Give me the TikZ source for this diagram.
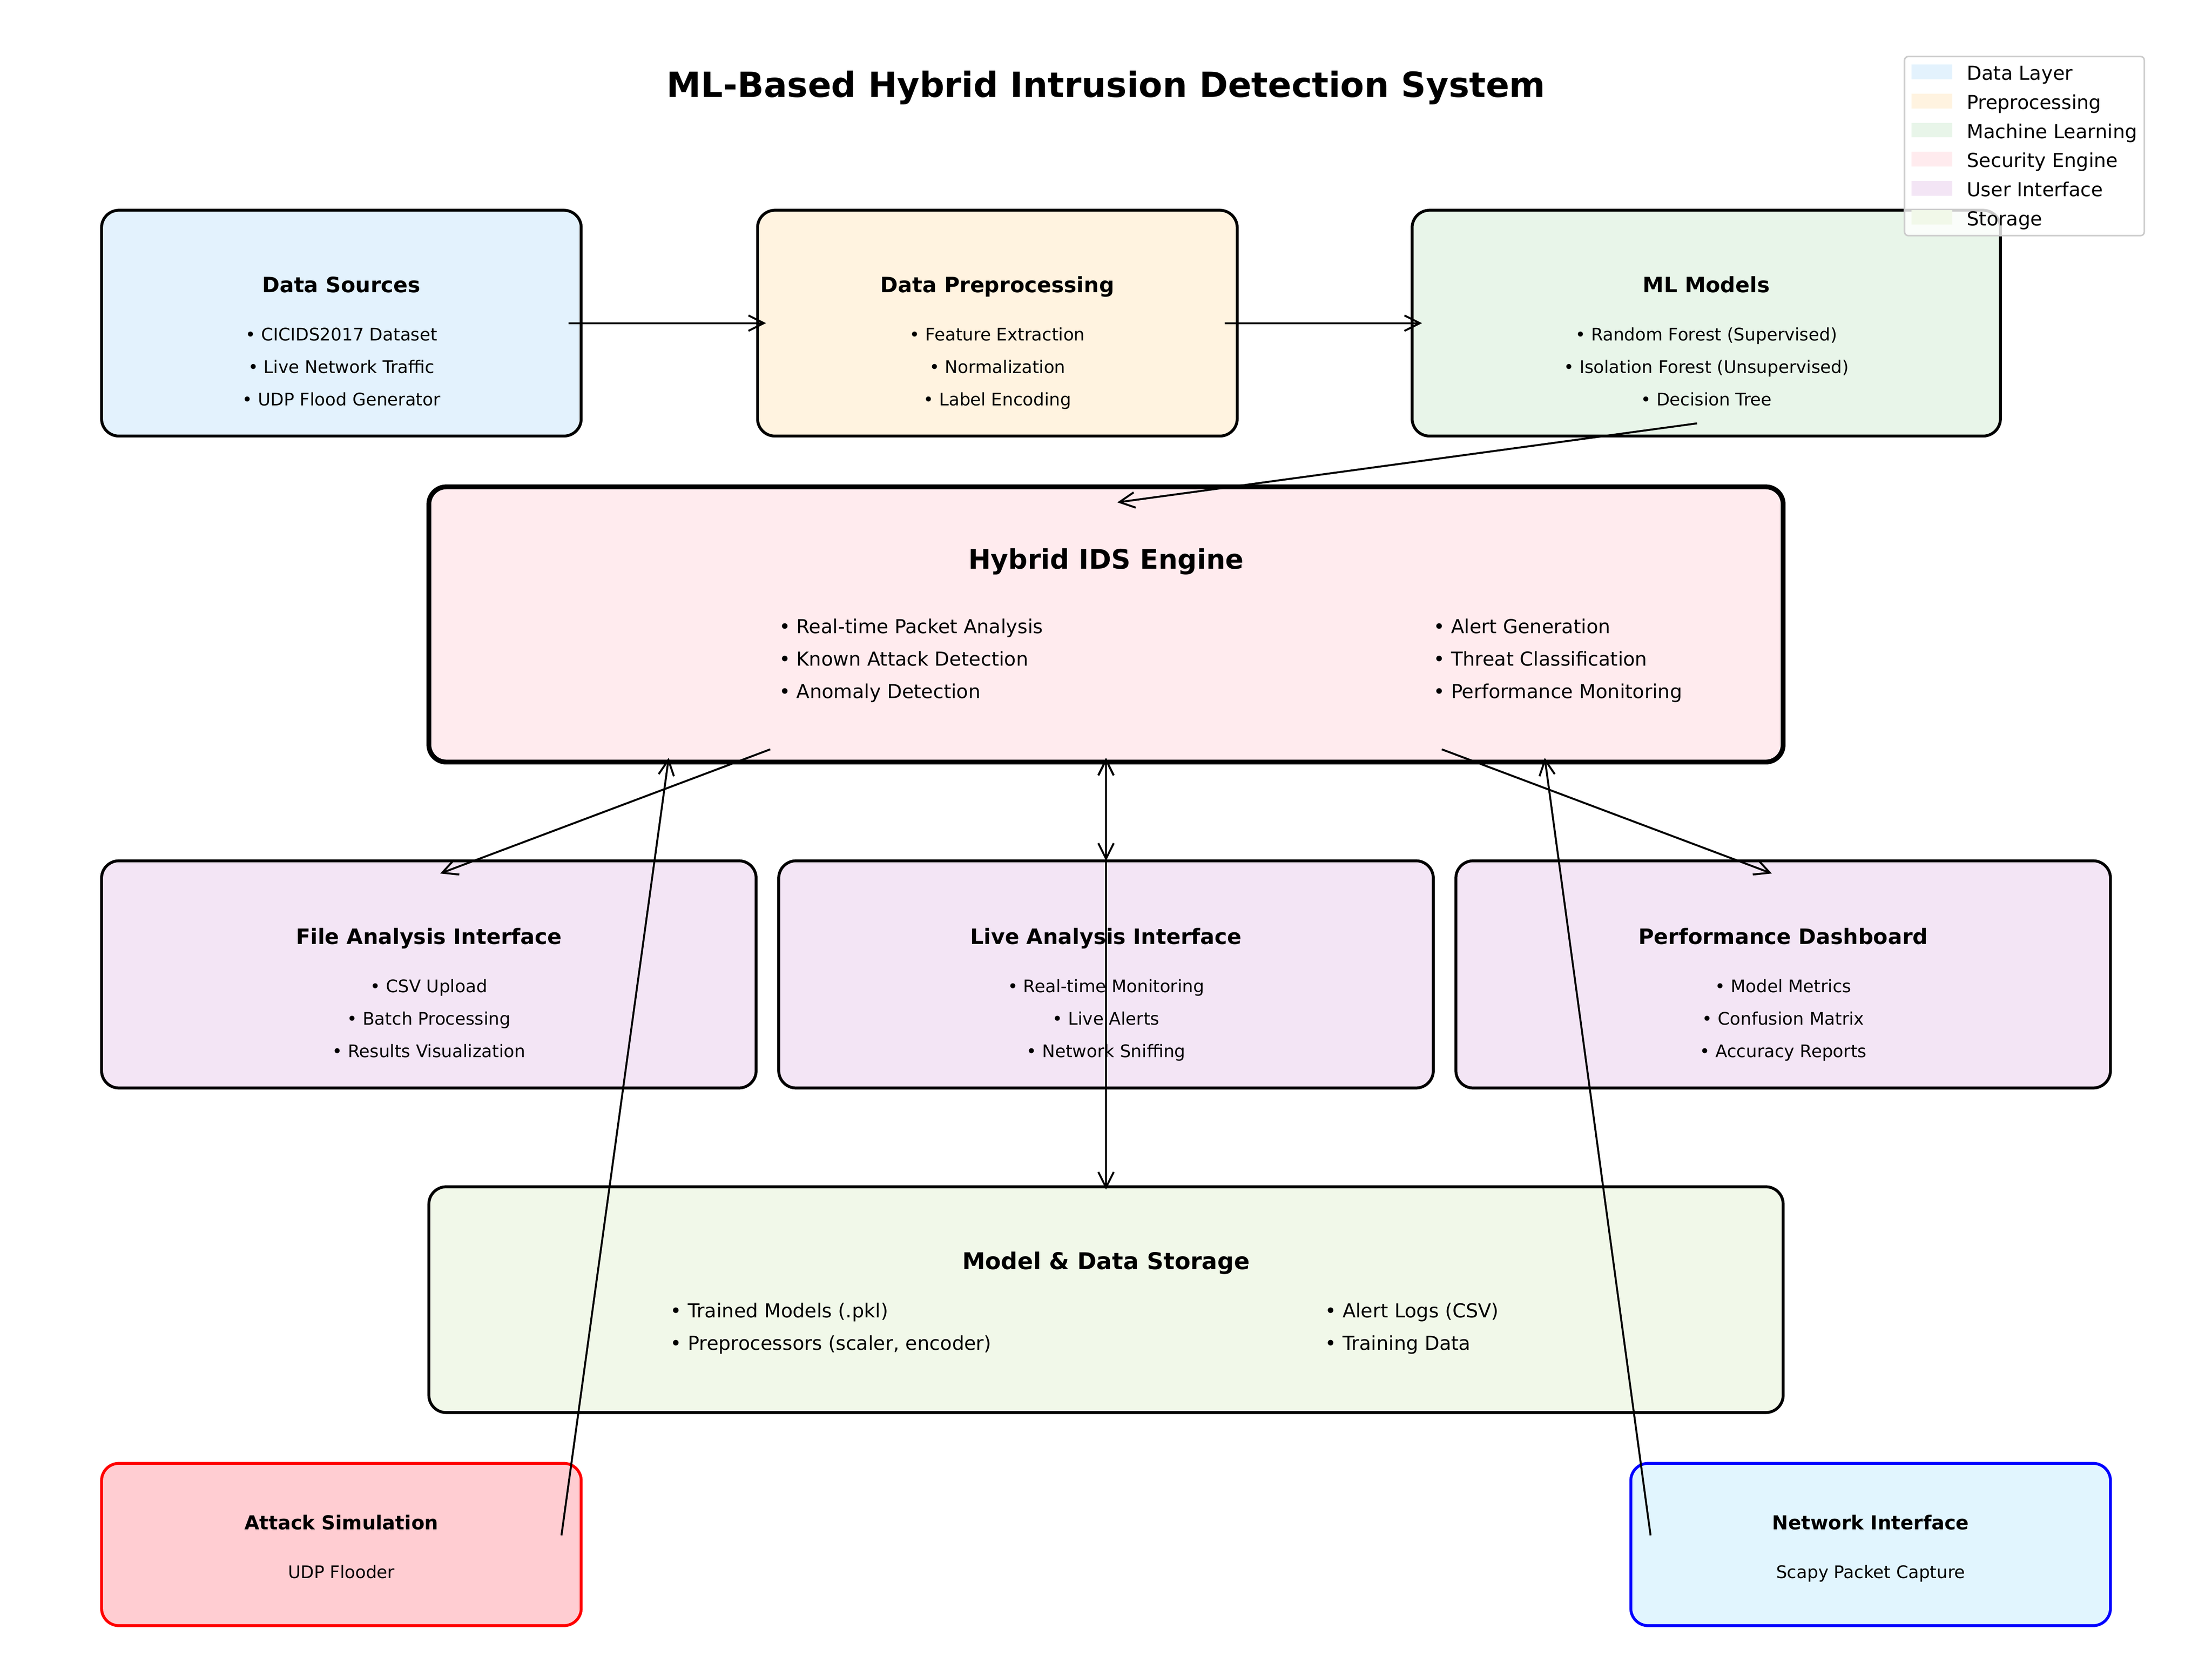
\documentclass[tikz,border=0pt]{standalone}
\usepackage{fontspec}
\setmainfont{DejaVu Sans}
\usetikzlibrary{arrows.meta,calc}
\newlength\pu \setlength\pu{0.025757cm}
\definecolor{cData}{HTML}{E3F2FD}
\definecolor{cPre}{HTML}{FFF3E0}
\definecolor{cML}{HTML}{E8F5E9}
\definecolor{cSec}{HTML}{FFEBEE}
\definecolor{cUI}{HTML}{F3E5F5}
\definecolor{cSto}{HTML}{F1F8E9}
\definecolor{cAtk}{HTML}{FFCDD2}
\definecolor{cNet}{HTML}{E1F5FE}
\definecolor{cLegB}{HTML}{CCCCCC}
\begin{document}
\begin{tikzpicture}[x=0.025757cm, y=-0.025757cm,
  box/.style={rectangle, draw=black, line width=1.5pt, rounded corners=9pt, inner sep=0pt},
  txt/.style={inner sep=0pt, yshift=-1.5pt, execute at begin node={\vphantom{lp}}},
  ttl/.style={txt, font=\fontsize{11}{13}\selectfont\bfseries},
  itm/.style={txt, font=\fontsize{9}{11}\selectfont},
  itmL/.style={txt, anchor=west, font=\fontsize{10}{12}\selectfont},
  legT/.style={txt, anchor=west, font=\fontsize{10}{12}\selectfont},
  patch/.style={rectangle, inner sep=0pt, minimum width=29\pu, minimum height=10.5\pu},
  arr/.style={line width=1pt, -{Straight Barb[length=8pt,width=8pt,line width=1pt]}},
  darr/.style={line width=1pt, {Straight Barb[length=8pt,width=8pt,line width=1pt]}-{Straight Barb[length=8pt,width=8pt,line width=1pt]}}
]
\useasboundingbox (0,0) rectangle (1568,1173.5);

% title
\node[txt, font=\fontsize{18}{21}\selectfont\bfseries] (title) at (784,60) {ML-Based Hybrid Intrusion Detection System};

% top row
\node[box, fill=cData, minimum width=340\pu, minimum height=160\pu] (ds) at (242,229) {};
\node[ttl] (dsT) at (242,201) {Data Sources};
\node[itm] (ds1) at (242,236) {• CICIDS2017 Dataset};
\node[itm] (ds2) at (242,259) {• Live Network Traffic};
\node[itm] (ds3) at (242,282) {• UDP Flood Generator};

\node[box, fill=cPre, minimum width=340\pu, minimum height=160\pu] (pre) at (707,229) {};
\node[ttl] (preT) at (707,201) {Data Preprocessing};
\node[itm] (pre1) at (707,236) {• Feature Extraction};
\node[itm] (pre2) at (707,259) {• Normalization};
\node[itm] (pre3) at (707,282) {• Label Encoding};

\node[box, fill=cML, minimum width=417\pu, minimum height=160\pu] (ml) at (1209.5,229) {};
\node[ttl] (mlT) at (1209.5,201) {ML Models};
\node[itm] (ml1) at (1209.5,236) {• Random Forest (Supervised)};
\node[itm] (ml2) at (1209.5,259) {• Isolation Forest (Unsupervised)};
\node[itm] (ml3) at (1209.5,282) {• Decision Tree};

% IDS engine
\node[box, fill=cSec, line width=2.5pt, minimum width=960\pu, minimum height=195\pu] (ids) at (784,442.5) {};
\node[txt, font=\fontsize{14}{17}\selectfont\bfseries] (idsT) at (784,396) {Hybrid IDS Engine};
\node[itmL] (idsL1) at (552,443) {• Real-time Packet Analysis};
\node[itmL] (idsL2) at (552,466) {• Known Attack Detection};
\node[itmL] (idsL3) at (552,489) {• Anomaly Detection};
\node[itmL] (idsR1) at (1016,443) {• Alert Generation};
\node[itmL] (idsR2) at (1016,466) {• Threat Classification};
\node[itmL] (idsR3) at (1016,489) {• Performance Monitoring};

% UI row
\node[box, fill=cUI, minimum width=464\pu, minimum height=161\pu] (fa) at (304,690.5) {};
\node[ttl] (faT) at (304,663) {File Analysis Interface};
\node[itm] (fa1) at (304,698) {• CSV Upload};
\node[itm] (fa2) at (304,721) {• Batch Processing};
\node[itm] (fa3) at (304,744) {• Results Visualization};

\node[box, fill=cUI, minimum width=464\pu, minimum height=161\pu] (la) at (784,690.5) {};
\node[ttl] (laT) at (784,663) {Live Analysis Interface};
\node[itm] (la1) at (784,698) {• Real-time Monitoring};
\node[itm] (la2) at (784,721) {• Live Alerts};
\node[itm] (la3) at (784,744) {• Network Sniffing};

\node[box, fill=cUI, minimum width=464\pu, minimum height=161\pu] (pd) at (1264,690.5) {};
\node[ttl] (pdT) at (1264,663) {Performance Dashboard};
\node[itm] (pd1) at (1264,698) {• Model Metrics};
\node[itm] (pd2) at (1264,721) {• Confusion Matrix};
\node[itm] (pd3) at (1264,744) {• Accuracy Reports};

% storage
\node[box, fill=cSto, minimum width=960\pu, minimum height=160\pu] (st) at (784,921) {};
\node[txt, font=\fontsize{12}{14}\selectfont\bfseries] (stT) at (784,893) {Model \& Data Storage};
\node[itmL] (stL1) at (475,928) {• Trained Models (.pkl)};
\node[itmL] (stL2) at (475,951) {• Preprocessors (scaler, encoder)};
\node[itmL] (stR1) at (939,928) {• Alert Logs (CSV)};
\node[itmL] (stR2) at (939,951) {• Training Data};

% bottom boxes
\node[box, fill=cAtk, draw=red, minimum width=340\pu, minimum height=115\pu] (as) at (242,1094.5) {};
\node[txt, font=\fontsize{10}{12}\selectfont\bfseries] (asT) at (242,1078) {Attack Simulation};
\node[itm] (as1) at (242,1113) {UDP Flooder};

\node[box, fill=cNet, draw=blue, minimum width=340\pu, minimum height=115\pu] (ni) at (1326,1094.5) {};
\node[txt, font=\fontsize{10}{12}\selectfont\bfseries] (niT) at (1326,1078) {Network Interface};
\node[itm] (ni1) at (1326,1113) {Scapy Packet Capture};

% connector end points
\coordinate (dsOut) at (403,229);
\coordinate (preIn) at (543,229);
\coordinate (preOut) at (868,229);
\coordinate (mlIn) at (1008,229);
\coordinate (mlOut) at (1203,300);
\coordinate (idsIn) at (792,356);
\coordinate (idsFa) at (546,531);
\coordinate (faIn) at (312,619);
\coordinate (idsPd) at (1022,531);
\coordinate (pdIn) at (1256,619);
\coordinate (idsC) at (784,537);
\coordinate (laIn) at (784,610);
\coordinate (stIn) at (784,843);
\coordinate (asOut) at (398,1088);
\coordinate (idsA) at (474,537);
\coordinate (niOut) at (1170,1088);
\coordinate (idsN) at (1095,537);

% connectors
\draw[arr] (dsOut) -- (preIn);
\draw[arr] (preOut) -- (mlIn);
\draw[arr] (mlOut) -- (idsIn);
\draw[arr] (idsFa) -- (faIn);
\draw[arr] (idsPd) -- (pdIn);
\draw[darr] (idsC) -- (laIn);
\draw[darr] (idsC) -- (stIn);
\draw[arr] (asOut) -- (idsA);
\draw[arr] (niOut) -- (idsN);

% legend
\node[rectangle, draw=cLegB, line width=0.8pt, fill=white, fill opacity=0.8, rounded corners=2pt, inner sep=0pt, minimum width=170\pu, minimum height=127\pu] (leg) at (1435,103.5) {};
\node[patch, fill=cData] (lp1) at (1369.5,51) {};
\node[patch, fill=cPre] (lp2) at (1369.5,71.6) {};
\node[patch, fill=cML] (lp3) at (1369.5,92.2) {};
\node[patch, fill=cSec] (lp4) at (1369.5,112.8) {};
\node[patch, fill=cUI] (lp5) at (1369.5,133.4) {};
\node[patch, fill=cSto] (lp6) at (1369.5,154) {};
\node[legT] (lt1) at (1394,51) {Data Layer};
\node[legT] (lt2) at (1394,71.6) {Preprocessing};
\node[legT] (lt3) at (1394,92.2) {Machine Learning};
\node[legT] (lt4) at (1394,112.8) {Security Engine};
\node[legT] (lt5) at (1394,133.4) {User Interface};
\node[legT] (lt6) at (1394,154) {Storage};
\end{tikzpicture}
\end{document}
